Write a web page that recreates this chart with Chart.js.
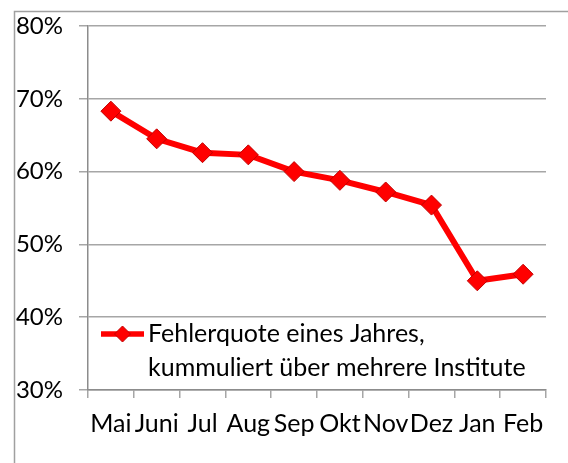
<!DOCTYPE html>
<html>
<head>
<meta charset="utf-8">
<script src="https://cdn.jsdelivr.net/npm/chart.js@4.4.0/dist/chart.umd.min.js"></script>
<style>
  html, body { margin: 0; padding: 0; background: #fff; }
  #wrap { position: relative; width: 568px; height: 463px; }
</style>
</head>
<body>
<div id="wrap"><canvas id="lineChart"></canvas></div>
<script>
var months = ['Mai', 'Juni', 'Jul', 'Aug', 'Sep', 'Okt', 'Nov', 'Dez', 'Jan', 'Feb'];
var quote = [68.3, 64.5, 62.6, 62.3, 60.0, 58.8, 57.2, 55.4, 45.0, 45.9];
var yTicks = [30, 40, 50, 60, 70, 80];
var seriesLabel = ['Fehlerquote eines Jahres,', 'kummuliert über mehrere Institute'];

var FONT = 'Lato, "Open Sans", sans-serif';
var gridGray = '#a6a6a6';

// outer chart border (Excel style), only left + top visible
var framePlugin = {
    id: 'frame',
    beforeDraw: function(chart) {
        var c = chart.ctx;
        c.save();
        c.strokeStyle = '#a0a0a0';
        c.lineWidth = 1.5;
        c.beginPath();
        c.moveTo(14.5, 470);
        c.lineTo(14.5, 11.5);
        c.lineTo(600, 11.5);
        c.stroke();
        c.restore();
    }
};

// legend inside the plot with a two-line label
var legendPlugin = {
    id: 'innerLegend',
    afterDatasetsDraw: function(chart) {
        var c = chart.ctx;
        var ds = chart.data.datasets[0];
        var x0 = 101, x1 = 144, y = 334;
        c.save();
        c.strokeStyle = ds.borderColor;
        c.lineWidth = 5.5;
        c.beginPath();
        c.moveTo(x0, y);
        c.lineTo(x1, y);
        c.stroke();
        var cx = (x0 + x1) / 2, r = 8;
        c.fillStyle = ds.pointBackgroundColor;
        c.strokeStyle = ds.pointBorderColor;
        c.lineWidth = 1;
        c.beginPath();
        c.moveTo(cx, y - r);
        c.lineTo(cx + r, y);
        c.lineTo(cx, y + r);
        c.lineTo(cx - r, y);
        c.closePath();
        c.fill();
        c.stroke();
        c.fillStyle = '#000';
        c.font = '25px ' + FONT;
        c.textBaseline = 'middle';
        c.textAlign = 'left';
        ds.label.forEach(function(line, i) {
            c.fillText(line, 148, y + i * 34);
        });
        c.restore();
    }
};

var ctx = document.getElementById('lineChart').getContext('2d');
var myChart = new Chart(ctx, {
    type: 'line',
    data: {
        labels: months,
        datasets: [{
            label: seriesLabel,
            data: quote,
            borderColor: '#ff0000',
            borderWidth: 6,
            backgroundColor: '#ff0000',
            pointStyle: 'rectRot',
            pointRadius: 10,
            pointHoverRadius: 10,
            pointBackgroundColor: '#ff0000',
            pointBorderColor: '#c00000',
            pointBorderWidth: 1,
            tension: 0
        }]
    },
    options: {
        responsive: true,
        maintainAspectRatio: false,
        animation: false,
        layout: {
            padding: { top: 26, right: 22, bottom: 0, left: 0 }
        },
        plugins: {
            legend: { display: false },
            tooltip: { enabled: false }
        },
        scales: {
            x: {
                offset: true,
                grid: {
                    display: true,
                    drawOnChartArea: false,
                    offset: true,
                    color: gridGray,
                    lineWidth: 1.5,
                    tickLength: 8
                },
                border: { color: '#8c8c8c', width: 1.5 },
                ticks: {
                    color: '#000',
                    font: { family: FONT, size: 25 },
                    padding: 11,
                    maxRotation: 0,
                    autoSkip: false
                },
                afterFit: function(scale) { scale.height = 73; }
            },
            y: {
                min: 30,
                max: 80,
                afterBuildTicks: function(scale) {
                    scale.ticks = yTicks.map(function(v) { return { value: v }; });
                },
                grid: {
                    color: gridGray,
                    lineWidth: 1.5,
                    tickLength: 9
                },
                border: { color: '#8c8c8c', width: 1.5 },
                ticks: {
                    color: '#000',
                    font: { family: FONT, size: 24 },
                    padding: 16,
                    callback: function(v) { return v + '%'; }
                },
                afterFit: function(scale) {
                    scale.width = 88;
                    scale.paddingTop = 0;  // let layout.padding decide the top
                }
            }
        }
    },
    plugins: [framePlugin, legendPlugin]
});
</script>
</body>
</html>
